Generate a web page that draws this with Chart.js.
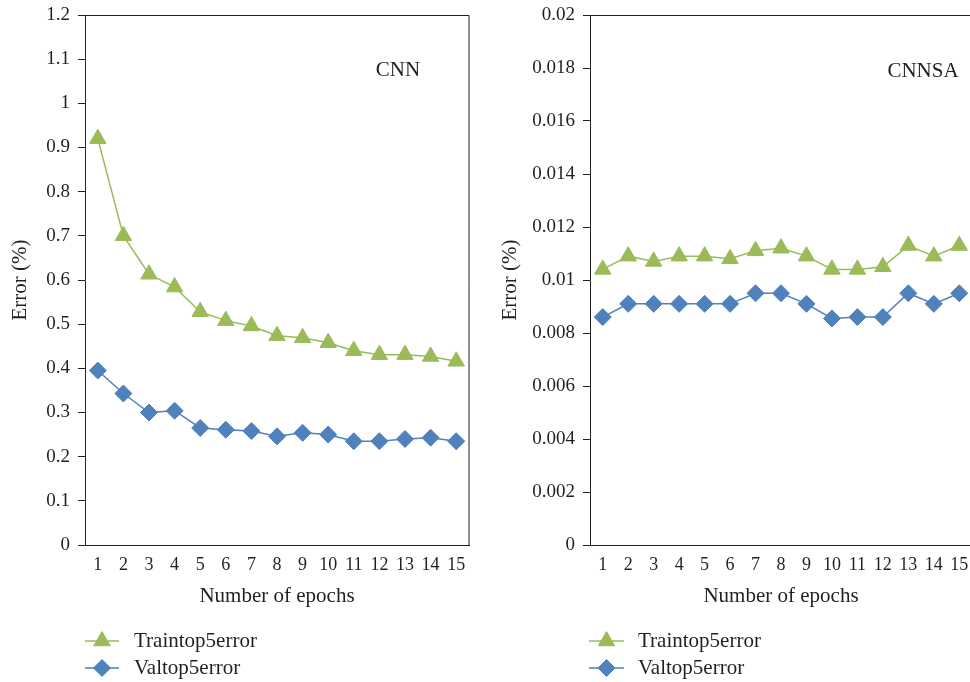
<!DOCTYPE html>
<html>
<head>
<meta charset="utf-8">
<script src="https://cdn.jsdelivr.net/npm/chart.js@4/dist/chart.umd.min.js"></script>
<style>
  html, body { margin: 0; padding: 0; background: #fff; width: 970px; height: 682px; overflow: hidden; }
  canvas { position: absolute; top: 0; }
  #cnn { left: 0; }
  #cnnsa { left: 490px; }
</style>
</head>
<body>
<canvas id="cnn" width="490" height="682"></canvas>
<canvas id="cnnsa" width="500" height="682"></canvas>
<script>
// Epoch categories shared by both panels
const epochs = ['1','2','3','4','5','6','7','8','9','10','11','12','13','14','15'];

// CNN panel (error in %)
const cnnTrain = [0.92, 0.70, 0.613, 0.584, 0.528, 0.508, 0.496, 0.474, 0.469, 0.458, 0.440, 0.431, 0.431, 0.427, 0.416];
const cnnVal   = [0.395, 0.343, 0.300, 0.304, 0.265, 0.261, 0.258, 0.246, 0.254, 0.250, 0.235, 0.235, 0.240, 0.243, 0.235];

// CNNSA panel (error in %)
const cnnsaTrain = [0.0104, 0.0109, 0.0107, 0.0109, 0.0109, 0.0108, 0.0111, 0.0112, 0.0109, 0.0104, 0.0104, 0.0105, 0.0113, 0.0109, 0.0113];
const cnnsaVal   = [0.0086, 0.0091, 0.0091, 0.0091, 0.0091, 0.0091, 0.0095, 0.0095, 0.0091, 0.00855, 0.0086, 0.0086, 0.0095, 0.0091, 0.0095];

// Axis ranges
const cnnAxis   = { min: 0, max: 1.2,  step: 0.1 };
const cnnsaAxis = { min: 0, max: 0.02, step: 0.002 };

const seriesNames = ['Traintop5error', 'Valtop5error'];

const GREEN = '#9bbb59';
const BLUE  = '#4f81bd';
const INK   = '#231f20';
const SERIF = "'Liberation Serif', 'DejaVu Serif', serif";

// Frame on top/right, panel caption and a line+marker legend under the plot
const panelDecor = {
  id: 'panelDecor',
  afterDraw(chart, args, opts) {
    const { ctx, chartArea: a } = chart;
    ctx.save();
    ctx.strokeStyle = INK;
    ctx.lineWidth = 1;
    ctx.beginPath();
    ctx.moveTo(a.left, Math.round(a.top) + 0.5);
    ctx.lineTo(a.right, Math.round(a.top) + 0.5);
    ctx.lineTo(a.right, a.bottom);
    ctx.stroke();

    ctx.fillStyle = INK;
    ctx.font = '21px ' + SERIF;
    ctx.textAlign = 'center';
    ctx.textBaseline = 'middle';
    ctx.fillText(opts.caption, opts.captionX, opts.captionY);

    chart.data.datasets.forEach((ds, i) => {
      const y = opts.legendY[i];
      ctx.strokeStyle = ds.borderColor;
      ctx.lineWidth = 1.5;
      ctx.beginPath();
      ctx.moveTo(opts.legendX0, y);
      ctx.lineTo(opts.legendX1, y);
      ctx.stroke();
      ctx.fillStyle = ds.backgroundColor;
      ctx.strokeStyle = ds.borderColor;
      ctx.lineWidth = 1;
      Chart.helpers.drawPoint(ctx, {
        pointStyle: ds.pointStyle, radius: ds.pointRadius, rotation: 0, borderWidth: 1
      }, (opts.legendX0 + opts.legendX1) / 2, y);
      ctx.fillStyle = INK;
      ctx.font = '21px ' + SERIF;
      ctx.textAlign = 'left';
      ctx.textBaseline = 'middle';
      ctx.fillText(ds.label, opts.legendText, y);
    });
    ctx.restore();
  }
};

function makeDataset(label, data, color, style, radius) {
  return {
    label, data,
    borderColor: color, backgroundColor: color,
    borderWidth: 1.5,
    pointStyle: style, pointRadius: radius, pointHoverRadius: radius,
    pointBorderWidth: 1, pointBackgroundColor: color, pointBorderColor: color,
    tension: 0, fill: false
  };
}

function buildPanel(id, train, val, axis, yWidth, padRight, decor) {
  return new Chart(document.getElementById(id), {
    type: 'line',
    data: {
      labels: epochs,
      datasets: [
        makeDataset(seriesNames[0], train, GREEN, 'triangle', 9.5),
        makeDataset(seriesNames[1], val, BLUE, 'rectRot', 8.5)
      ]
    },
    options: {
      responsive: false,
      animation: false,
      events: [],
      layout: { padding: { top: 15, right: padRight, bottom: 72, left: 0 } },
      plugins: {
        legend: { display: false },
        tooltip: { enabled: false },
        panelDecor: decor
      },
      scales: {
        x: {
          type: 'category',
          offset: true,
          grid: { display: false },
          border: { display: true, color: INK, width: 1 },
          ticks: { color: INK, font: { family: SERIF, size: 18 }, padding: 1, maxRotation: 0, autoSkip: false },
          title: { display: true, text: 'Number of epochs', color: INK, font: { family: SERIF, size: 21 }, padding: { top: 0, bottom: 1 } },
          afterFit(scale) { scale.height = 65; }
        },
        y: {
          min: axis.min, max: axis.max,
          grid: { display: true, drawOnChartArea: false, drawTicks: true, tickLength: 7, color: INK, lineWidth: 1 },
          border: { display: true, color: INK, width: 1 },
          ticks: {
            stepSize: axis.step, color: INK, padding: 8,
            font: { family: SERIF, size: 19 },
            callback: v => String(Number(v.toFixed(4)))
          },
          title: { display: true, text: 'Error (%)', color: INK, font: { family: SERIF, size: 21 }, padding: { top: 8, bottom: 0 } },
          afterFit(scale) {
            scale.width = yWidth;
            scale.paddingTop = 0;
            scale.paddingBottom = 0;
          }
        }
      }
    },
    plugins: [panelDecor]
  });
}

buildPanel('cnn', cnnTrain, cnnVal, cnnAxis, 85, 21, {
  caption: 'CNN', captionX: 398, captionY: 70,
  legendX0: 85, legendX1: 119, legendText: 134, legendY: [641, 668]
});

buildPanel('cnnsa', cnnsaTrain, cnnsaVal, cnnsaAxis, 100, 18, {
  caption: 'CNNSA', captionX: 433, captionY: 71,
  legendX0: 99, legendX1: 134, legendText: 148, legendY: [641, 668]
});
</script>
</body>
</html>
